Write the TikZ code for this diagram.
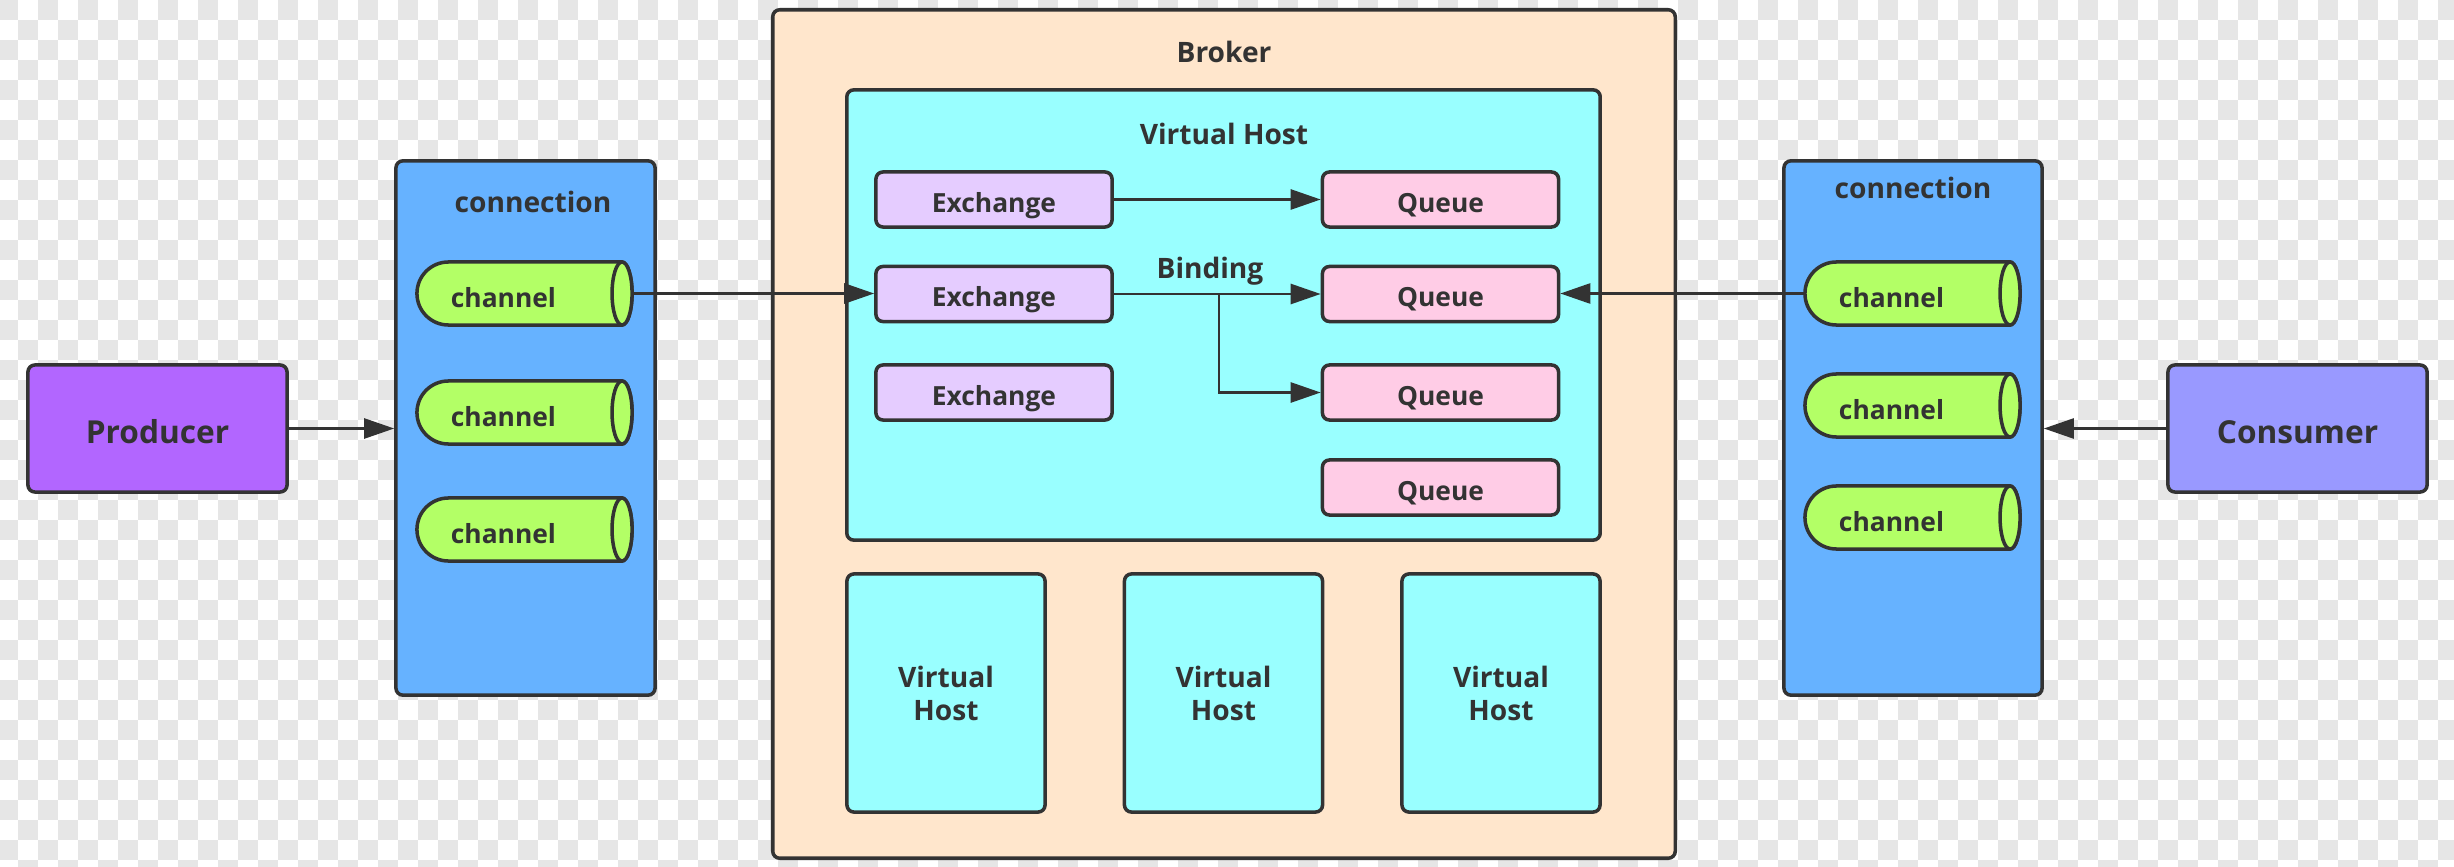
\documentclass[tikz,border=0pt]{standalone}
\usepackage{fontspec}
\setmainfont{Open Sans}
\usetikzlibrary{arrows.meta}

\definecolor{linha}{HTML}{333333}
\definecolor{quadro}{HTML}{E6E6E6}
\definecolor{corprod}{HTML}{B266FF}
\definecolor{corcons}{HTML}{9999FF}
\definecolor{corconn}{HTML}{66B2FF}
\definecolor{corchan}{HTML}{B3FF66}
\definecolor{corbroker}{HTML}{FFE6CC}
\definecolor{corvhost}{HTML}{99FFFF}
\definecolor{corexch}{HTML}{E5CCFF}
\definecolor{corqueue}{HTML}{FFCCE6}

% canal: meia-lua a esquerda e elipse a direita
\newcommand\canal[3]{%
  \filldraw[chanline] ([shift={(-0.71cm,0.315cm)}]#2,#3) arc[start angle=90, end angle=270, radius=0.315cm]
    -- ([shift={(1.025cm,-0.315cm)}]#2,#3) arc[start angle=-90, end angle=90, x radius=0.1cm, y radius=0.315cm] -- cycle;
  \draw[chanline] ([xshift=1.025cm]#2,#3) ellipse[x radius=0.1cm, y radius=0.315cm];
  \node[nodechan] (#1) at (#2,#3) {\hspace*{-0.32cm}channel};
}

\begin{document}
\begin{tikzpicture}[
        x=0.01cm, y=-0.01cm,
        nodebox/.style={draw=linha, line width=1pt, rounded corners=0.7mm, text=linha, inner sep=0pt},
        nodesmall/.style={nodebox, minimum width=2.36cm, minimum height=0.55cm, font=\bfseries\fontsize{7.5}{9}\selectfont, text height=2.5mm, text depth=0mm},
        nodebig/.style={nodebox, minimum width=2.59cm, minimum height=1.27cm, font=\bfseries\fontsize{9}{11}\selectfont, text height=2.9mm, text depth=0mm},
        nodevh/.style={nodebox, fill=corvhost, minimum width=1.98cm, minimum height=2.38cm, align=center, font=\bfseries\fontsize{8}{9.4}\selectfont},
        nodelabel/.style={text=linha, inner sep=0pt, anchor=base, font=\bfseries\fontsize{8}{10}\selectfont},
        nodechan/.style={minimum width=2.05cm, minimum height=0.63cm, inner sep=0pt, text=linha, font=\bfseries\fontsize{7.5}{9}\selectfont, text height=2.7mm, text depth=0mm},
        chanline/.style={draw=linha, line width=1pt, fill=corchan},
        seta/.style={draw=linha, line width=0.75pt, -{Triangle[length=3mm, width=2mm]}}
        ]
        \useasboundingbox (0,0) rectangle (2454,867);

        % fundo quadriculado
        \foreach \r in {0,...,43}{
          \pgfmathsetmacro\desl{mod(\r,2)*20-2}
          \foreach \c in {0,...,61}
            \fill[quadro] (\c*40+\desl,\r*20) rectangle ++(20,20);
        }

        \node[nodebig, fill=corprod] (producer) at (157.5,428.5) {Producer};
        \node[nodebig, fill=corcons] (consumer) at (2297.5,428.5) {Consumer};

        \node[nodebox, fill=corconn, minimum width=2.59cm, minimum height=5.34cm] (lconn) at (525.5,428) {};
        \node[nodebox, fill=corconn, minimum width=2.58cm, minimum height=5.34cm] (rconn) at (1913,428) {};
        \node[nodelabel] (llconn) at (533,213) {connection};
        \node[nodelabel] (lrconn) at (1913,199) {connection};

        \canal{lc1}{519.5}{293.5}
        \canal{lc2}{519.5}{412.5}
        \canal{lc3}{519.5}{529.5}
        \canal{rc1}{1907.5}{293.5}
        \canal{rc2}{1907.5}{405.5}
        \canal{rc3}{1907.5}{517.5}

        \node[nodebox, fill=corbroker, minimum width=9.02cm, minimum height=8.48cm] (broker) at (1224,434) {};
        \node[nodelabel] (lbroker) at (1224,63) {Broker};

        \node[nodebox, fill=corvhost, minimum width=7.53cm, minimum height=4.5cm] (vhost) at (1223.5,315) {};
        \node[nodelabel] (lvhost) at (1224,145) {Virtual Host};

        \node[nodesmall, fill=corexch] (ex1) at (994,199.5) {Exchange};
        \node[nodesmall, fill=corexch] (ex2) at (994,294) {Exchange};
        \node[nodesmall, fill=corexch] (ex3) at (994,392.5) {Exchange};

        \node[nodesmall, fill=corqueue] (q1) at (1440.5,199.5) {Queue};
        \node[nodesmall, fill=corqueue] (q2) at (1440.5,294) {Queue};
        \node[nodesmall, fill=corqueue] (q3) at (1440.5,392.5) {Queue};
        \node[nodesmall, fill=corqueue] (q4) at (1440.5,487.5) {Queue};
        \node[nodelabel] (lbinding) at (1210,278) {Binding};

        \node[nodevh] (vh1) at (946,693) {Virtual\\Host};
        \node[nodevh] (vh2) at (1223.5,693) {Virtual\\Host};
        \node[nodevh] (vh3) at (1501,693) {Virtual\\Host};

        \draw[seta] (producer.east) -- (producer.east -| lconn.west);
        \draw[seta] (consumer.west) -- (consumer.west -| rconn.east);
        \coordinate (lc1fim) at ([xshift=1.125cm]lc1.center);
        \draw[seta] (lc1fim) -- (lc1fim -| ex2.west);
        \draw[seta] (rc1.west) -- (rc1.west -| q2.east);
        \draw[seta] (ex1) -- (q1);
        \draw[seta] (ex2.east) -- (ex2.east -| q2.west);
        \draw[seta] (ex2.east) -- ++(105,0) |- (q3.west);
    \end{tikzpicture}
\end{document}
